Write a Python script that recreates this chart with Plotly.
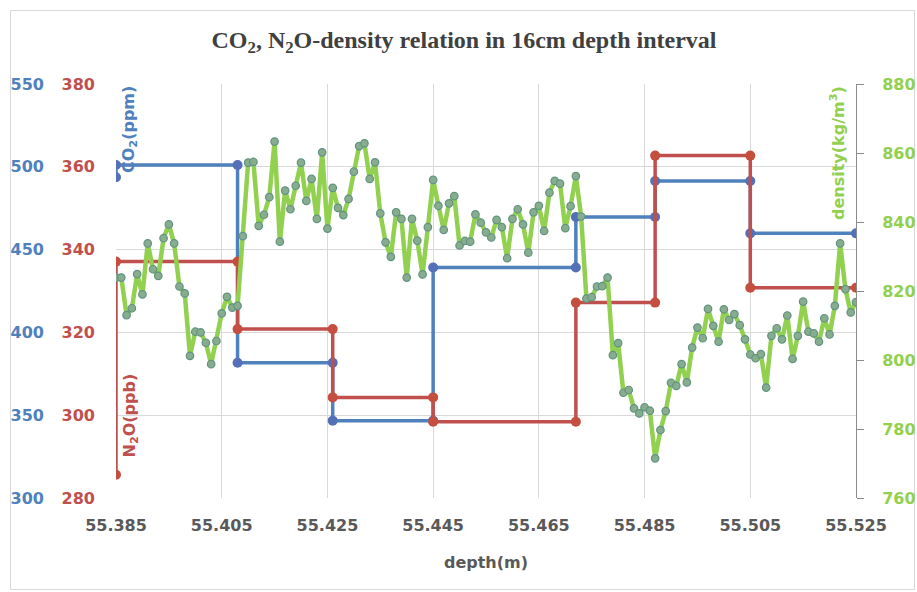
import numpy as np
import plotly.graph_objects as go

# Density profile, sampled every 1 mm from 55.385 m to 55.525 m (kg/m3)
depth = np.round(55.385 + 0.001 * np.arange(141), 3)
density = [
    823.9, 823.9, 813.0, 815.0, 824.9, 819.0, 833.8, 826.3, 824.4, 835.3,
    839.3, 833.8, 821.3, 819.3, 801.2, 808.2, 808.0, 805.0, 798.8, 805.5,
    813.5, 818.3, 815.2, 815.7, 835.9, 857.2, 857.4, 838.9, 842.1, 847.2,
    863.3, 834.3, 849.1, 843.7, 850.5, 857.2, 846.1, 852.5, 840.9, 860.2,
    838.1, 849.9, 844.1, 842.0, 846.7, 854.6, 862.0, 862.8, 852.5, 857.3,
    842.5, 834.1, 829.9, 842.8, 840.9, 823.9, 840.9, 834.6, 824.8, 838.5,
    852.2, 844.7, 837.7, 845.4, 847.5, 833.2, 834.5, 834.3, 842.2, 839.8,
    837.0, 835.5, 840.6, 838.5, 829.5, 840.9, 843.7, 839.3, 831.1, 842.8,
    844.7, 837.4, 848.5, 851.9, 851.1, 838.2, 844.6, 853.3, 841.6, 817.8,
    818.2, 821.3, 821.4, 823.9, 801.4, 804.9, 790.5, 791.3, 786.0, 784.5,
    786.3, 785.3, 771.5, 779.7, 785.2, 793.4, 792.5, 798.8, 793.5, 803.6,
    809.4, 806.3, 814.8, 809.9, 805.3, 814.7, 811.6, 813.3, 810.1, 806.0,
    801.6, 800.5, 801.7, 792.0, 807.0, 809.2, 806.0, 812.9, 800.3, 807.0,
    816.9, 808.2, 807.7, 805.3, 812.1, 807.4, 815.7, 833.8, 820.5, 813.8,
    816.8,
]

# Gas sampling intervals (depth boundaries, m) and interval concentrations
interval_bounds = [55.385, 55.408, 55.426, 55.445, 55.472, 55.487, 55.505, 55.525]
co2_prev = 493.7
co2_ppm = [501.1, 381.7, 346.7, 439.2, 469.7, 491.4, 459.8]
n2o_prev = 285.6
n2o_ppb = [337.1, 320.8, 304.3, 298.4, 327.2, 362.7, 330.8]

x_ticks = [55.385, 55.405, 55.425, 55.445, 55.465, 55.485, 55.505, 55.525]
x_ticktext = ["55.385", "55.405", "55.425", "55.445", "55.465", "55.485", "55.505", "55.525"]


def step_points(bounds, prev, values):
    xs, ys = [bounds[0]], [prev]
    for k, v in enumerate(values):
        xs += [bounds[k], bounds[k + 1]]
        ys += [v, v]
    return xs, ys


BLUE = "#4f81bd"
RED = "#c0504d"
GREEN = "#92d050"
GRAY_TXT = "#595959"
TICK_FONT = "DejaVu Sans"

co2_x, co2_y = step_points(interval_bounds, co2_prev, co2_ppm)
n2o_x, n2o_y = step_points(interval_bounds, n2o_prev, n2o_ppb)

fig = go.Figure()
fig.add_trace(go.Scatter(
    x=co2_x, y=co2_y, mode="lines+markers", yaxis="y",
    line=dict(color=BLUE, width=3.5),
    marker=dict(size=10, color="#5470b8"), name="CO2",
))
fig.add_trace(go.Scatter(
    x=n2o_x, y=n2o_y, mode="lines+markers", yaxis="y2",
    line=dict(color=RED, width=3.5),
    marker=dict(size=10, color="#c44f3f"), name="N2O",
))
fig.add_trace(go.Scatter(
    x=depth, y=density, mode="lines+markers", yaxis="y3",
    line=dict(color=GREEN, width=4.5),
    marker=dict(size=7.5, color="#88ac8e", line=dict(color="#5f9480", width=1.2)),
    name="density",
))

W, H = 917, 592
L, R, T, B = 116, 61, 84, 94
pw, ph = W - L - R, H - T - B


def px_x(x):
    return (x - L) / pw


def px_y(y):
    return (H - B - y) / ph


fig.update_layout(
    width=W, height=H, autosize=False,
    margin=dict(l=L, r=R, t=T, b=B, autoexpand=False),
    paper_bgcolor="white", plot_bgcolor="white",
    showlegend=False,
    title=dict(
        text="CO<sub>2</sub>, N<sub>2</sub>O-density relation in 16cm depth interval",
        x=464 / W, xref="container", xanchor="center",
        y=1 - 40 / H, yref="container", yanchor="middle",
        font=dict(family="Liberation Serif", size=24, color="#404040", weight="bold"),
    ),
    xaxis=dict(
        range=[55.385, 55.525], tickvals=x_ticks, ticktext=x_ticktext,
        showgrid=True, gridcolor="#d9d9d9", gridwidth=1,
        zeroline=False, showline=False, ticks="", automargin=False,
        ticklabelstandoff=16,
        tickfont=dict(family=TICK_FONT, size=16, color=GRAY_TXT, weight="bold"),
        title=dict(text="depth(m)", standoff=22,
                   font=dict(family=TICK_FONT, size=16, color=GRAY_TXT, weight="bold")),
    ),
    yaxis=dict(
        range=[300, 550], tickvals=[300, 350, 400, 450, 500, 550],
        showgrid=True, gridcolor="#d9d9d9", gridwidth=1,
        zeroline=False, showline=False, ticks="", automargin=False,
        ticklabelstandoff=71,
        tickfont=dict(family=TICK_FONT, size=16, color=BLUE, weight="bold"),
    ),
    yaxis2=dict(
        range=[280, 380], tickvals=[280, 300, 320, 340, 360, 380],
        overlaying="y", side="left", anchor="x",
        showgrid=False, zeroline=False, showline=False, ticks="", automargin=False,
        ticklabelstandoff=20,
        tickfont=dict(family=TICK_FONT, size=16, color=RED, weight="bold"),
    ),
    yaxis3=dict(
        range=[760, 880], tickvals=[760, 780, 800, 820, 840, 860, 880],
        overlaying="y", side="right", anchor="x",
        showgrid=False, zeroline=False, automargin=False,
        showline=True, linecolor="#8c8c8c", linewidth=1,
        ticks="outside", ticklen=7, tickcolor="#8c8c8c",
        ticklabelstandoff=15,
        tickfont=dict(family=TICK_FONT, size=16, color=GREEN, weight="bold"),
    ),
)

# Axis titles drawn inside the plot area
fig.add_annotation(
    text="CO<sub>2</sub>(ppm)", textangle=-90, showarrow=False,
    xref="paper", yref="paper", x=px_x(129.5), y=px_y(84),
    xanchor="center", yanchor="top",
    font=dict(family=TICK_FONT, size=16, color=BLUE, weight="bold"),
)
fig.add_annotation(
    text="N<sub>2</sub>O(ppb)", textangle=-90, showarrow=False,
    xref="paper", yref="paper", x=px_x(129.5), y=px_y(416),
    xanchor="center", yanchor="middle",
    font=dict(family=TICK_FONT, size=16, color=RED, weight="bold"),
)
fig.add_annotation(
    text="density(kg/m<sup>3</sup>)", textangle=-90, showarrow=False,
    xref="paper", yref="paper", x=px_x(837), y=px_y(84),
    xanchor="center", yanchor="top",
    font=dict(family=TICK_FONT, size=16, color=GREEN, weight="bold"),
)

# Chart frame
fig.add_shape(
    type="rect", xref="paper", yref="paper",
    x0=px_x(10.5), x1=px_x(914.5), y0=px_y(589.5), y1=px_y(10.5),
    line=dict(color="#d9d9d9", width=1), fillcolor="rgba(0,0,0,0)", layer="below",
)

fig.write_html("out.html")
